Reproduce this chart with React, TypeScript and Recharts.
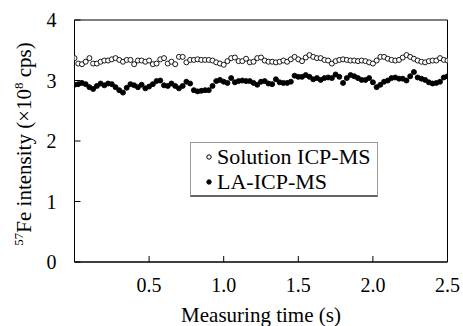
import React from 'react';
import { ScatterChart, Scatter, XAxis, YAxis, Legend, ReferenceArea, Label } from 'recharts';

const FONT = "'Liberation Serif', 'Times New Roman', Times, serif";

const times = [
  0, 0.025, 0.05, 0.075, 0.1, 0.125, 0.15, 0.175, 0.2, 0.225,
  0.25, 0.275, 0.3, 0.325, 0.35, 0.375, 0.4, 0.425, 0.45, 0.475,
  0.5, 0.525, 0.55, 0.575, 0.6, 0.625, 0.65, 0.675, 0.7, 0.725,
  0.75, 0.775, 0.8, 0.825, 0.85, 0.875, 0.9, 0.925, 0.95, 0.975,
  1.0, 1.025, 1.05, 1.075, 1.1, 1.125, 1.15, 1.175, 1.2, 1.225,
  1.25, 1.275, 1.3, 1.325, 1.35, 1.375, 1.4, 1.425, 1.45, 1.475,
  1.5, 1.525, 1.55, 1.575, 1.6, 1.625, 1.65, 1.675, 1.7, 1.725,
  1.75, 1.775, 1.8, 1.825, 1.85, 1.875, 1.9, 1.925, 1.95, 1.975,
  2.0, 2.025, 2.05, 2.075, 2.1, 2.125, 2.15, 2.175, 2.2, 2.225,
  2.25, 2.275, 2.3, 2.325, 2.35, 2.375, 2.4, 2.425, 2.45, 2.475,
  2.5,
];

const solution = [
  3.37, 3.28, 3.27, 3.31, 3.37, 3.28, 3.28, 3.31, 3.33, 3.33,
  3.35, 3.37, 3.34, 3.31, 3.34, 3.34, 3.27, 3.33, 3.33, 3.31,
  3.33, 3.27, 3.28, 3.35, 3.37, 3.28, 3.31, 3.27, 3.39, 3.39,
  3.30, 3.34, 3.34, 3.35, 3.34, 3.34, 3.34, 3.33, 3.30, 3.28,
  3.26, 3.32, 3.37, 3.38, 3.32, 3.32, 3.36, 3.30, 3.31, 3.37,
  3.38, 3.33, 3.31, 3.31, 3.30, 3.31, 3.33, 3.31, 3.35, 3.39,
  3.35, 3.32, 3.38, 3.42, 3.39, 3.37, 3.37, 3.34, 3.33, 3.28,
  3.32, 3.34, 3.35, 3.34, 3.33, 3.33, 3.32, 3.33, 3.32, 3.30,
  3.28, 3.33, 3.39, 3.39, 3.36, 3.34, 3.33, 3.34, 3.38, 3.42,
  3.39, 3.36, 3.33, 3.31, 3.30, 3.32, 3.33, 3.33, 3.37, 3.34,
  3.33,
];

const laicp = [
  2.93, 2.94, 2.96, 2.94, 2.89, 2.86, 2.91, 2.95, 2.92, 2.95,
  2.94, 2.89, 2.84, 2.80, 2.88, 2.94, 2.92, 2.89, 2.93, 2.87,
  2.90, 2.94, 2.99, 3.00, 2.92, 2.91, 2.95, 2.91, 2.87, 2.91,
  2.98, 2.95, 2.84, 2.82, 2.83, 2.84, 2.84, 2.91, 2.99, 3.01,
  2.98, 2.96, 3.04, 2.97, 2.99, 3.00, 2.99, 2.99, 2.96, 2.93,
  2.98, 2.99, 2.95, 2.94, 3.02, 2.97, 2.96, 2.96, 2.98, 3.08,
  3.06, 3.06, 3.09, 3.06, 3.02, 3.04, 3.01, 3.04, 3.05, 3.04,
  3.10, 3.06, 2.96, 3.04, 3.09, 3.07, 3.04, 3.01, 3.01, 3.04,
  2.97, 2.89, 2.93, 2.98, 3.00, 3.04, 3.05, 3.03, 3.03, 3.00,
  3.07, 3.14, 3.05, 3.03, 3.01, 2.97, 2.95, 2.96, 2.98, 3.05,
  3.07,
];

const seriesNames = ['Solution ICP-MS', 'LA-ICP-MS'];
const seriesFills = ['#ffffff', '#000000'];

const xTicks = [0.5, 1.0, 1.5, 2.0, 2.5];
const yTicks = [0, 1, 2, 3, 4];

const solutionData = times.map((t, i) => ({ t, v: solution[i] }));
const laData = times.map((t, i) => ({ t, v: laicp[i] }));

const makeShape = (fill: string) => (p: any) => (
  <circle cx={p.cx} cy={p.cy} r={2.5} fill={fill} stroke="#000" strokeWidth={0.9} />
);

const XTick = (props: any) => {
  const { x, y, payload } = props;
  return (
    <g>
      <line x1={x} y1={y} x2={x} y2={y - 6} stroke="#000" strokeWidth={1} />
      <text x={x} y={y + 30} textAnchor="middle" fontSize={20} fontFamily={FONT} fill="#000">
        {Number(payload.value).toFixed(1)}
      </text>
    </g>
  );
};

const YTick = (props: any) => {
  const { x, y, payload } = props;
  return (
    <g>
      <line x1={x} y1={y} x2={x + 6} y2={y} stroke="#000" strokeWidth={1} />
      <text x={x - 18} y={y} dy="0.35em" textAnchor="end" fontSize={20} fontFamily={FONT} fill="#000">
        {payload.value}
      </text>
    </g>
  );
};

const YTitle = (props: any) => {
  const vb = props.viewBox || { x: 0, y: 20, width: 74, height: 242 };
  const cx = 31;
  const cy = vb.y + vb.height / 2 + 3;
  return (
    <text
      x={cx}
      y={cy}
      transform={`rotate(-90, ${cx}, ${cy})`}
      textAnchor="middle"
      fontSize={21}
      fontFamily={FONT}
      fill="#000"
    >
      <tspan fontSize={13} dy={-8}>57</tspan>
      <tspan dy={8}>Fe intensity (×10</tspan>
      <tspan fontSize={13} dy={-8}>8</tspan>
      <tspan dy={8}> cps)</tspan>
    </text>
  );
};

const LegendBox = (props: any) => {
  const payload = [...(props.payload || [])].sort(
    (a: any, b: any) => seriesNames.indexOf(a.value) - seriesNames.indexOf(b.value),
  );
  return (
    <div
      style={{
        boxSizing: 'border-box',
        width: 188,
        height: 55,
        border: '1px solid #9a9a9a',
        borderBottom: '2px solid #666',
        background: '#fff',
        fontFamily: FONT,
        fontSize: 22,
        color: '#000',
        paddingTop: 1,
      }}
    >
      {payload.map((entry: any, i: number) => {
        const idx = seriesNames.indexOf(entry.value);
        const fill = seriesFills[idx >= 0 ? idx : i];
        return (
          <div key={i} style={{ display: 'flex', alignItems: 'center', height: 25, lineHeight: '25px' }}>
            <svg width={26} height={25} style={{ flex: 'none' }}>
              <circle cx={18} cy={13} r={2.2} fill={fill} stroke="#000" strokeWidth={1} />
            </svg>
            <span style={{ whiteSpace: 'nowrap' }}>{entry.value}</span>
          </div>
        );
      })}
    </div>
  );
};

export default function App() {
  return (
    <div style={{ position: 'absolute', left: 0, top: 0, background: '#fff' }}>
      <ScatterChart width={463} height={326} margin={{ top: 20, right: 15.5, bottom: 0, left: 0 }}>
        <XAxis
          type="number"
          dataKey="t"
          domain={[0, 2.5]}
          ticks={xTicks}
          tick={<XTick />}
          tickLine={false}
          tickSize={0}
          tickMargin={0}
          height={64}
          axisLine={{ stroke: '#000' }}
          allowDataOverflow
        >
          <Label
            value="Measuring time (s)"
            position="insideBottom"
            offset={4}
            style={{ fontSize: 21, fontFamily: FONT, fill: '#000' }}
          />
        </XAxis>
        <YAxis
          type="number"
          dataKey="v"
          domain={[0, 4]}
          ticks={yTicks}
          tick={<YTick />}
          tickLine={false}
          tickSize={0}
          tickMargin={0}
          width={74.5}
          axisLine={{ stroke: '#000' }}
          allowDataOverflow
        >
          <Label content={<YTitle />} />
        </YAxis>
        <ReferenceArea x1={0} x2={2.5} y1={0} y2={4} fill="none" stroke="#000" strokeWidth={1} ifOverflow="visible" />
        <Scatter
          name={seriesNames[0]}
          data={solutionData}
          shape={makeShape(seriesFills[0])}
          isAnimationActive={false}
        />
        <Scatter
          name={seriesNames[1]}
          data={laData}
          shape={makeShape(seriesFills[1])}
          isAnimationActive={false}
        />
        <Legend
          layout="vertical"
          align="center"
          verticalAlign="middle"
          content={<LegendBox />}
          wrapperStyle={{ position: 'absolute', left: 190, top: 142, width: 188, height: 55 }}
        />
      </ScatterChart>
    </div>
  );
}
